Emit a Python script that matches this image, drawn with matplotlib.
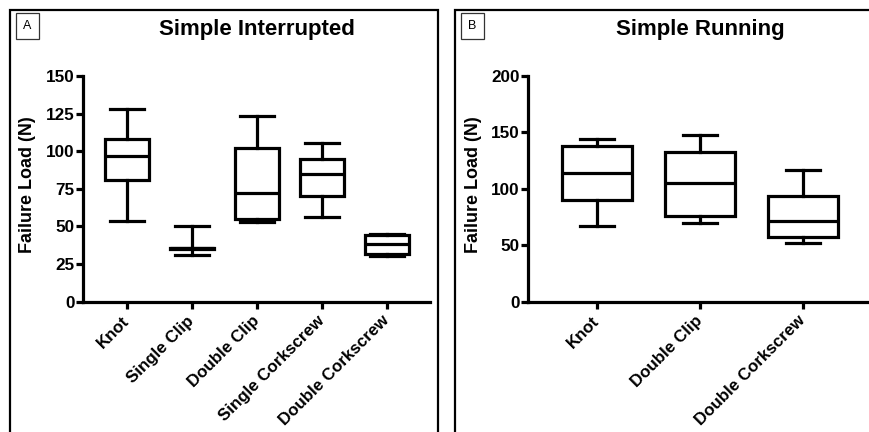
import matplotlib
matplotlib.use("Agg")
import matplotlib.pyplot as plt
from matplotlib.patches import Rectangle

plt.rcParams['font.family'] = ['Liberation Sans', 'DejaVu Sans']

# ---- Data ----
cats_a = ["Knot", "Single Clip", "Double Clip", "Single Corkscrew", "Double Corkscrew"]
whislo_a = [53.8, 31.0, 53.2, 56.1, 30.4]
q1_a = [80.9, 35.3, 55.0, 70.2, 31.5]
med_a = [96.8, 35.5, 72.0, 84.9, 38.1]
q3_a = [107.9, 35.8, 102.4, 94.6, 44.1]
whishi_a = [127.8, 50.5, 123.4, 105.3, 44.8]
yticks_a = [0, 25, 50, 75, 100, 125, 150]

cats_b = ["Knot", "Double Clip", "Double Corkscrew"]
whislo_b = [66.8, 69.4, 52.0]
q1_b = [89.8, 75.9, 57.6]
med_b = [114.3, 104.9, 71.5]
q3_b = [138.0, 132.3, 93.9]
whishi_b = [144.5, 147.4, 117.0]
yticks_b = [0, 50, 100, 150, 200]

W, H = 869, 432
fig = plt.figure(figsize=(W / 100, H / 100), dpi=100)


def px_axes(x0, y_top, x1, y_bot):
    return fig.add_axes([x0 / W, 1 - y_bot / H, (x1 - x0) / W, (y_bot - y_top) / H])


LW = 2.3


def draw_panel(ax, cats, lo, q1, med, q3, hi, yticks, xlim, capw):
    stats = []
    for c, a, b, m, d, e in zip(cats, lo, q1, med, q3, hi):
        stats.append(dict(label=c, whislo=a, q1=b, med=m, q3=d, whishi=e, fliers=[]))
    pos = list(range(len(cats)))
    ax.bxp(stats, positions=pos, widths=0.68, capwidths=capw, showfliers=False,
           patch_artist=True,
           boxprops=dict(facecolor='white', edgecolor='black', linewidth=LW),
           medianprops=dict(color='black', linewidth=LW),
           whiskerprops=dict(color='black', linewidth=LW),
           capprops=dict(color='black', linewidth=LW))
    ax.set_xlim(*xlim)
    ax.set_ylim(yticks[0], yticks[-1])
    ax.set_yticks(yticks)
    ax.set_yticklabels([str(t) for t in yticks], fontsize=12.3, fontweight='bold')
    ax.set_xticks(pos)
    ax.set_xticklabels(cats, rotation=45, ha='right', va='center', rotation_mode='anchor',
                       fontsize=12.2, fontweight='bold')
    for s in ['top', 'right']:
        ax.spines[s].set_visible(False)
    for s in ['left', 'bottom']:
        ax.spines[s].set_linewidth(LW)
        ax.spines[s].set_capstyle('projecting')
    ax.tick_params(axis='both', width=LW, length=5, direction='out')
    ax.tick_params(axis='y', pad=1)
    ax.tick_params(axis='x', pad=7)
    ax.set_facecolor('none')
    for art in ax.get_children():
        try:
            art.set_clip_on(False)
        except Exception:
            pass


# Panel A
axA = px_axes(83, 76, 430, 301.7)
draw_panel(axA, cats_a, whislo_a, q1_a, med_a, q3_a, whishi_a, yticks_a,
           (-0.677, 4.66), 0.52)

# Panel B
axB = px_axes(528, 76, 872, 301.7)
draw_panel(axB, cats_b, whislo_b, q1_b, med_b, q3_b, whishi_b, yticks_b,
           (-0.67, 2.67), 0.33)


def fx(x):
    return x / W


def fy(y):
    return 1 - y / H


# Panel frames
fig.patches.append(Rectangle((fx(10), fy(445)), fx(438) - fx(10), fy(10) - fy(445),
                             transform=fig.transFigure, fill=False, edgecolor='black',
                             linewidth=1.6, clip_on=False))
fig.patches.append(Rectangle((fx(455), fy(445)), fx(900) - fx(455), fy(10) - fy(445),
                             transform=fig.transFigure, fill=False, edgecolor='black',
                             linewidth=1.6, clip_on=False))

# Panel letters
for lab, x0 in [("A", 16), ("B", 461)]:
    fig.patches.append(Rectangle((fx(x0), fy(39)), fx(x0 + 23) - fx(x0), fy(13) - fy(39),
                                 transform=fig.transFigure, fill=False, edgecolor='#333333',
                                 linewidth=0.9))
    fig.text(fx(x0 + 11.5), fy(26), lab, ha='center', va='center', fontsize=9)

# Titles
fig.text(fx(257), fy(29), "Simple Interrupted", ha='center', va='center',
         fontsize=16, fontweight='bold')
fig.text(fx(700), fy(29), "Simple Running", ha='center', va='center',
         fontsize=16, fontweight='bold')

# Y labels
fig.text(fx(28), fy(185), "Failure Load (N)", rotation=90, ha='center', va='center',
         fontsize=13, fontweight='bold')
fig.text(fx(474), fy(185), "Failure Load (N)", rotation=90, ha='center', va='center',
         fontsize=13, fontweight='bold')

fig.savefig("out.png", dpi=100, facecolor='white')
